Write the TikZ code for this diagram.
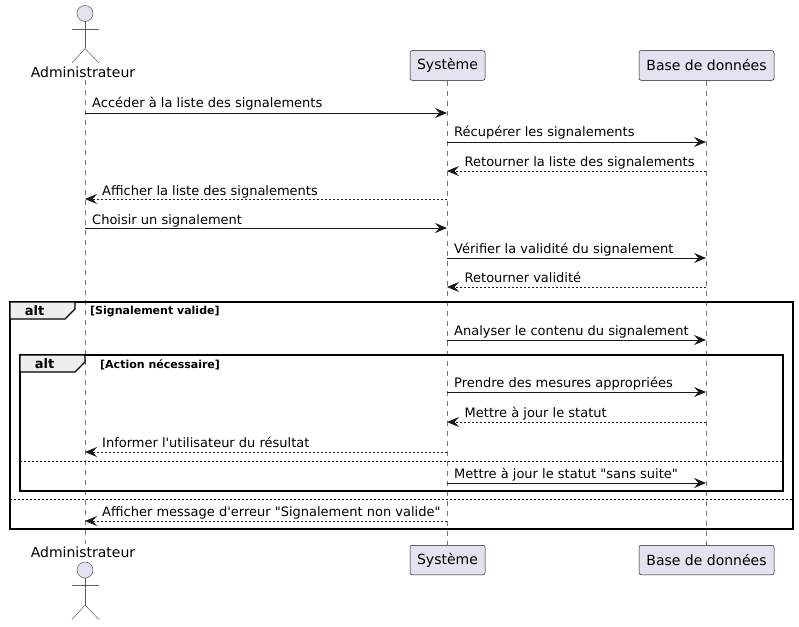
\documentclass[tikz,border=0pt]{standalone}
\usepackage{fontspec}
\newfontfamily\djv{DejaVu Sans}
\usetikzlibrary{arrows.meta}
\definecolor{pfill}{HTML}{E2E2F0}
\definecolor{pline}{HTML}{181818}
\definecolor{tabfill}{HTML}{EEEEEE}
\tikzset{
  part/.style={draw=pline,line width=.5pt,fill=pfill,rounded corners=2pt,minimum height=29.5pt,inner sep=0pt,font=\djv\fontsize{14}{16}\selectfont,text=black},
  actname/.style={inner sep=0pt,font=\djv\fontsize{14}{16}\selectfont,text=black},
  life/.style={draw=pline!60,line width=.5pt,dash pattern=on 5pt off 5pt},
  msg/.style={draw=pline,line width=1pt,-{Stealth[length=12pt,width=10pt,inset=4.5pt,fill=pline]}},
  sync/.style={msg},
  ret/.style={msg,dash pattern=on 2pt off 2pt},
  lab/.style={anchor=base west,inner sep=0pt,font=\djv\fontsize{13}{15}\selectfont,text=black},
  frameb/.style={draw=black,line width=1.5pt},
  tabs/.style={draw=black,line width=1.2pt,fill=tabfill},
  altt/.style={inner sep=0pt,font=\djv\fontsize{13}{15}\bfseries\selectfont,text=black},
  guard/.style={anchor=base west,inner sep=0pt,font=\djv\fontsize{11}{13}\bfseries\selectfont,text=black},
  sep/.style={draw=black,line width=.8pt,dash pattern=on 2pt off 2pt},
  act/.style={draw=pline!70,line width=.5pt},
  head/.style={draw=pline!70,line width=.5pt,fill=pfill}
}
\newcommand{\actorfig}[1]{%
  \draw[head] (85,#1) circle (8);
  \draw[act] (85,#1+8) -- (85,#1+35);
  \draw[act] (72,#1+15.5) -- (99,#1+15.5);
  \draw[act] (72,#1+49.5) -- (85,#1+35) -- (99,#1+49.5);
}
\begin{document}
\begin{tikzpicture}[x=1pt,y=-1pt]
\useasboundingbox (0,0) rectangle (799,626);
\fill[white] (0,0) rectangle (799,626);
% participants
\node[actname] (at) at (83,72.5) {Administrateur};
\node[actname] (ab) at (83,552.5) {Administrateur};
\node[part,minimum width=75pt] (st) at (447.5,65.5) {Système};
\node[part,minimum width=135pt] (bt) at (706.5,65.5) {Base de données};
\node[part,minimum width=75pt] (sb) at (447.5,560) {Système};
\node[part,minimum width=135pt] (bb) at (706.5,560) {Base de données};
% lifelines
\coordinate (al1) at (85,80); \coordinate (al2) at (85,544);
\draw[life] (al1) -- (al2);
\draw[life] (st) -- (sb);
\draw[life] (bt) -- (bb);
% actors
\actorfig{13.5}
\actorfig{570}
% frames
\coordinate (of1) at (10,302); \coordinate (of2) at (793,529);
\coordinate (if1) at (20,355); \coordinate (if2) at (783,491);
\draw[frameb] (of1) rectangle (of2);
\draw[tabs] (10,302) -- (75,302) -- (75,309) -- (65,319) -- (10,319) -- cycle;
\node[altt] (alt1) at (34.5,310.5) {alt};
\node[guard] (g1) at (90,314.5) {[Signalement valide]};
\draw[frameb] (if1) rectangle (if2);
\draw[tabs] (20,355) -- (85,355) -- (85,362) -- (75,372) -- (20,372) -- cycle;
\node[altt] (alt2) at (44.5,364) {alt};
\node[guard] (g2) at (100,368) {[Action nécessaire]};
\coordinate (s1a) at (10,499); \coordinate (s1b) at (793,499);
\coordinate (s2a) at (20,461); \coordinate (s2b) at (783,461);
\draw[sep] (s1a) -- (s1b);
\draw[sep] (s2a) -- (s2b);
% message ends
\coordinate (a1) at (85,113); \coordinate (s1) at (447,113);
\coordinate (s2) at (447,142); \coordinate (b2) at (706,142);
\coordinate (b3) at (706,171); \coordinate (s3) at (447,171);
\coordinate (s4) at (447,199); \coordinate (a4) at (85,199);
\coordinate (a5) at (85,228); \coordinate (s5) at (447,228);
\coordinate (s6) at (447,258); \coordinate (b6) at (706,258);
\coordinate (b7) at (706,287); \coordinate (s7) at (447,287);
\coordinate (s8) at (447,340); \coordinate (b8) at (706,340);
\coordinate (s9) at (447,392); \coordinate (b9) at (706,392);
\coordinate (b10) at (706,422); \coordinate (s10) at (447,422);
\coordinate (s11) at (447,452); \coordinate (a11) at (85,452);
\coordinate (s12) at (447,483); \coordinate (b12) at (706,483);
\coordinate (s13) at (447,521); \coordinate (a13) at (85,521);
\draw[sync] (a1) -- (s1);
\draw[sync] (s2) -- (b2);
\draw[ret] (b3) -- (s3);
\draw[ret] (s4) -- (a4);
\draw[sync] (a5) -- (s5);
\draw[sync] (s6) -- (b6);
\draw[ret] (b7) -- (s7);
\draw[sync] (s8) -- (b8);
\draw[sync] (s9) -- (b9);
\draw[ret] (b10) -- (s10);
\draw[ret] (s11) -- (a11);
\draw[sync] (s12) -- (b12);
\draw[ret] (s13) -- (a13);
% labels
\node[lab] (l1) at (92,107) {Accéder à la liste des signalements};
\node[lab] (l2) at (454,136) {Récupérer les signalements};
\node[lab] (l3) at (464.5,166) {Retourner la liste des signalements};
\node[lab] (l4) at (102,195) {Afficher la liste des signalements};
\node[lab] (l5) at (92,224) {Choisir un signalement};
\node[lab] (l6) at (454,253) {Vérifier la validité du signalement};
\node[lab] (l7) at (464.5,282) {Retourner validité};
\node[lab] (l8) at (454,335) {Analyser le contenu du signalement};
\node[lab] (l9) at (454,387) {Prendre des mesures appropriées};
\node[lab] (l10) at (464.5,417) {Mettre à jour le statut};
\node[lab] (l11) at (102,447) {Informer l'utilisateur du résultat};
\node[lab] (l12) at (454,478) {Mettre à jour le statut "sans suite"};
\node[lab] (l13) at (102,516) {Afficher message d'erreur "Signalement non valide"};
\end{tikzpicture}
\end{document}
